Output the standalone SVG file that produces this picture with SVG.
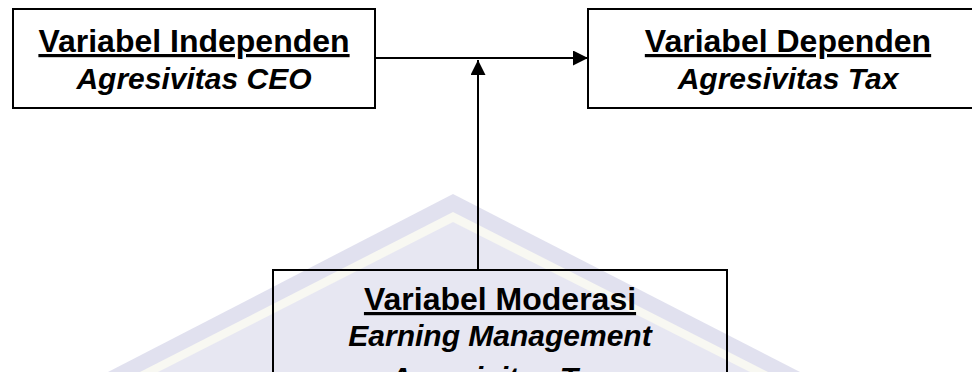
<svg xmlns="http://www.w3.org/2000/svg" width="972" height="372" viewBox="0 0 972 372">
  <style>
    .box { fill: none; stroke: #000; stroke-width: 2; }
    .title { font-family: "Liberation Sans", Arial, sans-serif; font-weight: bold; font-size: 32px; text-anchor: middle; text-decoration: underline; fill: #000; }
    .sub { font-family: "Liberation Sans", Arial, sans-serif; font-weight: bold; font-style: italic; font-size: 30px; text-anchor: middle; fill: #000; }
    .conn { stroke: #000; stroke-width: 2; fill: none; }
  </style>
  <defs>
    <marker id="arrow" markerUnits="userSpaceOnUse" markerWidth="16" markerHeight="16" refX="15" refY="7.5" orient="auto">
      <path d="M0,0 L15,7.5 L0,15 z" fill="#000"/>
    </marker>
  </defs>
  <rect width="972" height="372" fill="#fff"/>
  <g id="watermark" opacity="0.75">
    <polygon points="453,194 800,372 108,372" fill="#d8d8ea"/>
    <polygon points="453,212 768,372 140,372" fill="#f6f6ee"/>
    <polygon points="453,222 750,372 158,372" fill="#e0e0ee"/>
  </g>
  <g id="connectors">
    <line class="conn" x1="375" y1="58" x2="588" y2="58" marker-end="url(#arrow)"/>
    <line class="conn" x1="478" y1="270" x2="478" y2="60" marker-end="url(#arrow)"/>
  </g>
  <g id="independen">
    <rect class="box" x="13" y="9" width="362" height="99"/>
    <text class="title" x="194" y="52">Variabel Independen</text>
    <text class="sub" x="194" y="89">Agresivitas CEO</text>
  </g>
  <g id="dependen">
    <rect class="box" x="588" y="9" width="400" height="99"/>
    <text class="title" x="788" y="52">Variabel Dependen</text>
    <text class="sub" x="788" y="89">Agresivitas Tax</text>
  </g>
  <g id="moderasi">
    <rect class="box" x="273" y="270" width="454" height="130"/>
    <text class="title" x="500" y="310">Variabel Moderasi</text>
    <text class="sub" x="500" y="346">Earning Management</text>
    <text class="sub" x="500" y="388">Agresivitas Tax</text>
  </g>
</svg>
